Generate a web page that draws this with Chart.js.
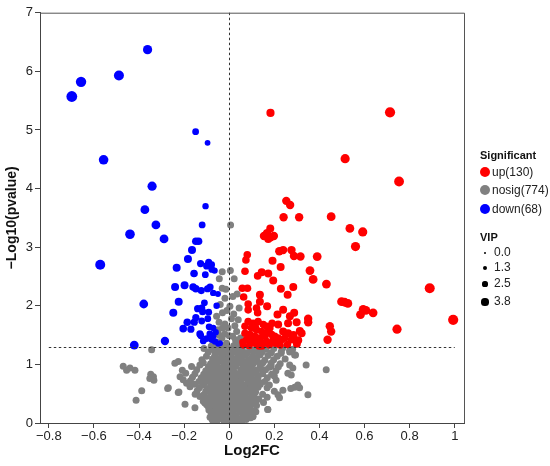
<!DOCTYPE html>
<html>
<head>
<meta charset="utf-8">
<script src="https://cdn.jsdelivr.net/npm/chart.js@4.4.1/dist/chart.umd.min.js"></script>
<style>
  body { margin: 0; background: #fff; font-family: 'Liberation Sans', Arial, sans-serif; }
  #wrap { position: relative; width: 550px; height: 466px; }
  .lg { position: absolute; left: 480px; font-size: 12px; color: #222; line-height: 14px; white-space: nowrap; }
  .lg b { font-size: 11px; color: #111; }
  .dot { position: absolute; border-radius: 50%; }
</style>
</head>
<body>
<div id="wrap">
  <canvas id="volcano" width="550" height="466"></canvas>
  <div id="legend"></div>
</div>
<script>
// x = Log2FC, y = -log10(pvalue), v = VIP
const upPts = [
  [0.183,5.29,2.5],[0.713,5.30,3.5],[0.514,4.51,3.0],[0.753,4.12,3.3],
  [0.253,3.79,2.6],[0.270,3.72,2.6],[0.241,3.51,2.6],[0.310,3.51,2.6],[0.452,3.52,2.8],
  [0.182,3.32,2.4],[0.535,3.32,2.8],[0.592,3.26,3.0],[0.560,3.01,3.0],
  [0.154,3.19,2.6],[0.168,3.24,2.6],[0.183,3.17,2.6],[0.198,3.19,2.6],[0.173,3.14,2.4],
  [0.080,2.87,2.2],[0.074,2.78,2.2],[0.222,2.93,2.6],[0.239,2.95,2.6],[0.276,2.95,2.6],
  [0.287,2.85,2.6],[0.316,2.84,2.6],[0.390,2.84,2.8],[0.192,2.77,2.4],[0.228,2.66,2.4],
  [0.070,2.59,2.2],[0.144,2.57,2.4],[0.173,2.55,2.4],[0.126,2.51,2.2],
  [0.358,2.60,2.8],[0.372,2.45,2.8],[0.431,2.37,2.8],[0.195,2.43,2.4],
  [0.058,2.30,2.2],[0.081,2.30,2.2],[0.229,2.29,2.4],[0.284,2.32,2.4],
  [0.259,2.19,2.4],[0.064,2.15,2.2],[0.136,2.19,2.4],[0.136,2.07,2.4],
  [0.084,2.03,2.2],[0.084,1.93,2.2],[0.168,1.99,2.4],[0.121,1.96,2.2],[0.126,1.88,2.2],
  [0.239,1.93,2.4],[0.288,1.88,2.4],[0.269,1.82,2.4],[0.214,1.85,2.4],
  [0.889,2.30,3.4],[0.498,2.07,2.8],[0.512,2.06,2.8],[0.526,2.04,2.8],
  [0.594,1.94,2.8],[0.606,1.92,2.8],[0.582,1.85,2.8],[0.638,1.88,2.8],
  [0.993,1.76,3.5],[0.744,1.60,3.0],
  [0.350,1.78,2.6],[0.350,1.72,2.6],[0.299,1.72,2.4],[0.261,1.70,2.4],[0.217,1.68,2.4],
  [0.313,1.57,2.4],[0.321,1.53,2.4],[0.446,1.65,2.6],[0.452,1.56,2.6],[0.436,1.42,2.6],
  [0.239,1.56,2.4],[0.261,1.53,2.4],[0.306,1.41,2.4],[0.300,1.35,2.4],
  [0.084,1.73,2.2],[0.106,1.70,2.2],[0.128,1.73,2.2],[0.151,1.68,2.2],[0.166,1.65,2.2],
  [0.099,1.62,2.2],[0.121,1.59,2.2],[0.144,1.56,2.2],[0.173,1.56,2.2],[0.070,1.53,2.2],
  [0.092,1.51,2.2],[0.114,1.48,2.2],[0.136,1.45,2.2],[0.158,1.48,2.2],[0.188,1.51,2.2],
  [0.202,1.48,2.2],[0.217,1.45,2.2],[0.232,1.42,2.2],[0.077,1.42,2.2],[0.099,1.39,2.2],
  [0.128,1.39,2.2],[0.166,1.39,2.2],[0.195,1.42,2.2],[0.247,1.45,2.2],[0.276,1.42,2.2],
  [0.114,1.36,2.2],[0.151,1.36,2.2],[0.062,1.33,2.0],[0.088,1.32,2.0],[0.132,1.31,2.0],
  [0.178,1.33,2.0],[0.205,1.36,2.2],[0.258,1.34,2.2],[0.070,1.65,2.2],[0.180,1.62,2.2],
  [0.200,1.40,2.2],[0.225,1.33,2.2],[0.145,1.31,2.0],[0.105,1.45,2.2],[0.060,1.38,2.0],
  [0.190,1.70,2.2],[0.285,1.50,2.4],[0.115,1.65,2.2]
];

const downPts = [
  [-0.698,5.57,3.8],[-0.657,5.82,3.6],[-0.489,5.93,3.4],[-0.362,6.37,3.0],
  [-0.149,4.97,1.8],[-0.096,4.78,1.3],[-0.557,4.49,3.2],[-0.342,4.04,3.0],
  [-0.374,3.64,2.8],[-0.105,3.70,1.6],[-0.325,3.38,2.8],[-0.120,3.38,1.8],
  [-0.440,3.22,3.2],[-0.289,3.14,2.8],[-0.148,3.10,2.2],[-0.136,3.10,2.2],
  [-0.165,2.95,2.4],[-0.183,2.80,2.4],[-0.091,2.74,2.0],[-0.078,2.70,1.8],
  [-0.100,2.68,2.0],[-0.127,2.72,2.0],[-0.572,2.70,3.4],[-0.233,2.65,2.4],
  [-0.077,2.62,1.8],[-0.065,2.60,1.6],[-0.156,2.55,2.2],[-0.106,2.53,1.8],
  [-0.240,2.32,2.4],[-0.198,2.35,2.4],[-0.160,2.32,2.2],[-0.148,2.29,2.2],
  [-0.124,2.26,2.0],[-0.085,2.32,2.0],[-0.096,2.29,2.0],[-0.071,2.22,1.6],
  [-0.224,2.07,2.4],[-0.379,2.03,2.8],[-0.122,1.96,2.0],[-0.118,1.90,2.0],
  [-0.091,1.89,1.8],[-0.056,2.00,1.6],[-0.248,1.88,2.4],[-0.148,1.80,2.0],
  [-0.155,1.72,2.0],[-0.186,1.72,2.2],[-0.122,1.74,1.8],[-0.089,1.64,1.8],
  [-0.071,1.62,1.6],[-0.204,1.61,2.2],[-0.130,1.52,2.0],[-0.126,1.49,1.8],
  [-0.086,1.52,1.8],[-0.071,1.48,1.6],[-0.100,1.44,1.8],[-0.078,1.42,1.6],
  [-0.063,1.39,1.6],[-0.049,1.35,1.4],[-0.041,1.36,1.4],[-0.285,1.40,2.6],
  [-0.421,1.33,2.8],[-0.095,1.78,1.8],[-0.110,2.05,1.8],[-0.140,1.95,2.0],
  [-0.060,1.55,1.6],[-0.170,1.60,2.0],[-0.115,1.40,1.8],[-0.050,2.20,1.4]
];

const nosigVip = 1.9;
const nosigPts = [
  [-0.112,1.27],[-0.071,1.28],[-0.034,1.26],[-0.004,1.27],[0.027,1.28],[0.058,1.26],[0.091,1.27],[0.124,1.28],[0.163,1.26],[0.198,1.27],[0.237,1.28],[0.281,1.26],
  [-0.093,1.21],[-0.052,1.22],[-0.018,1.20],[0.016,1.21],[0.047,1.22],[0.081,1.20],[0.113,1.22],[0.146,1.21],[0.187,1.20],[0.231,1.22],[0.268,1.21],
  [-0.101,1.14],[-0.063,1.16],[-0.029,1.15],[0.008,1.14],[0.039,1.16],[0.072,1.15],[0.104,1.14],[0.137,1.16],[0.172,1.15],[0.213,1.14],[0.290,1.16],
  [-0.121,1.08],[-0.074,1.09],[-0.041,1.07],[-0.009,1.08],[0.022,1.09],[0.054,1.07],[0.088,1.08],[0.121,1.09],[0.158,1.07],[0.197,1.08],[0.248,1.09],
  [-0.241,1.02],[-0.226,1.05],[-0.115,1.03],[-0.083,1.01],[-0.054,1.03],[-0.021,1.02],[0.011,1.01],[0.043,1.03],[0.069,1.02],[0.107,1.01],[0.149,1.03],[0.186,1.02],[0.226,1.01],[0.268,0.99],
  [-0.167,0.965],[-0.130,0.99],[-0.092,0.96],[-0.061,0.97],[-0.032,0.95],[-0.003,0.96],[0.029,0.97],[0.061,0.95],[0.098,0.96],[0.138,0.97],[0.178,0.95],[0.218,0.96],[0.341,0.99],
  [-0.208,0.90],[-0.144,0.91],[-0.104,0.89],[-0.071,0.90],[-0.043,0.91],[-0.012,0.89],[0.019,0.90],[0.051,0.91],[0.083,0.89],[0.119,0.90],[0.161,0.91],[0.207,0.89],[0.282,0.94],[0.430,0.91],
  [-0.193,0.85],[-0.152,0.84],[-0.113,0.83],[-0.082,0.85],[-0.051,0.84],[-0.022,0.83],[0.009,0.85],[0.038,0.84],[0.071,0.83],[0.109,0.85],[0.148,0.84],[0.188,0.83],[0.260,0.85],[0.275,0.82],
  [-0.218,0.79],[-0.163,0.78],[-0.124,0.77],[-0.094,0.79],[-0.062,0.78],[-0.031,0.77],[-0.002,0.79],[0.028,0.78],[0.061,0.77],[0.093,0.79],[0.128,0.78],[0.169,0.77],
  [-0.204,0.74],[-0.172,0.72],[-0.134,0.71],[-0.101,0.73],[-0.072,0.72],[-0.043,0.71],[-0.014,0.73],[0.018,0.72],[0.049,0.71],[0.082,0.73],[0.118,0.72],[0.158,0.71],[0.208,0.73],
  [-0.189,0.68],[-0.153,0.66],[-0.114,0.65],[-0.083,0.67],[-0.053,0.66],[-0.024,0.65],[0.007,0.67],[0.038,0.66],[0.068,0.65],[0.102,0.67],[0.138,0.66],[0.178,0.65],[0.304,0.65],
  [-0.270,0.60],[-0.174,0.62],[-0.132,0.60],[-0.094,0.59],[-0.063,0.61],[-0.034,0.60],[-0.004,0.59],[0.027,0.61],[0.058,0.60],[0.091,0.59],[0.128,0.61],[0.168,0.60],[0.290,0.61],[0.312,0.60],
  [-0.226,0.52],[-0.142,0.55],[-0.104,0.54],[-0.073,0.53],[-0.044,0.55],[-0.013,0.54],[0.018,0.53],[0.049,0.55],[0.081,0.54],[0.117,0.53],[0.200,0.54],[0.238,0.56],[0.273,0.59],
  [-0.151,0.49],[-0.113,0.48],[-0.082,0.47],[-0.053,0.49],[-0.022,0.48],[0.009,0.47],[0.039,0.49],[0.071,0.48],[0.108,0.47],[0.148,0.49],[0.216,0.48],[0.349,0.48],
  [-0.130,0.45],[-0.093,0.42],[-0.062,0.41],[-0.032,0.43],[-0.003,0.42],[0.028,0.41],[0.061,0.43],[0.094,0.42],[0.131,0.41],[0.168,0.44],[0.223,0.43],
  [-0.115,0.37],[-0.081,0.36],[-0.052,0.35],[-0.021,0.37],[0.011,0.36],[0.042,0.35],[0.073,0.37],[0.104,0.36],[0.152,0.35],
  [-0.196,0.32],[-0.108,0.34],[-0.071,0.30],[-0.042,0.29],[-0.012,0.31],[0.019,0.30],[0.051,0.29],[0.083,0.31],[0.121,0.30],
  [-0.152,0.26],[-0.093,0.28],[-0.061,0.24],[-0.032,0.23],[-0.003,0.25],[0.028,0.24],[0.061,0.23],[0.092,0.25],[0.171,0.23],
  [-0.071,0.19],[-0.042,0.18],[-0.013,0.17],[0.018,0.19],[0.049,0.18],[0.082,0.17],[0.118,0.19],
  [-0.058,0.13],[-0.031,0.12],[-0.002,0.11],[0.029,0.13],[0.061,0.12],[0.105,0.11],
  [-0.042,0.07],[-0.013,0.06],[0.018,0.05],[0.046,0.07],
  [-0.021,0.02],[0.008,0.01],[0.031,0.03],
  [-0.047,1.24],[-0.008,1.18],[0.034,1.11],[-0.028,1.05],[0.012,0.99],[-0.041,0.93],[0.003,0.87],[0.045,0.81],[-0.017,0.75],
  [0.032,0.69],[-0.038,0.63],[0.014,0.57],[-0.026,0.51],[0.022,0.45],[-0.011,0.39],[0.035,0.33],[-0.027,0.27],[0.008,0.21],
  [-0.019,0.15],[0.014,0.09],[0.000,0.04],[-0.066,1.12],[0.064,1.05],[-0.058,0.88],[0.066,0.77],[-0.060,0.45],[0.052,0.39],
  [-0.075,0.05],[-0.055,0.03],[0.055,0.02],[0.075,0.06],[0.095,0.09],[-0.085,0.10],[0.070,0.14],[-0.080,0.16],[0.100,0.15],
  [-0.090,0.22],[0.110,0.21],[0.075,0.20],[-0.050,0.21],[0.040,0.26],[-0.020,0.27],[0.070,0.27],[-0.100,0.31],[0.100,0.33],
  [-0.035,0.33],[0.060,0.34],[-0.070,0.39],[0.085,0.39],[0.120,0.38],[-0.040,0.40],[0.045,0.44],[-0.085,0.45],[0.110,0.45],
  [-0.015,0.46],[0.065,0.51],[-0.065,0.51],[0.095,0.51],[0.000,0.52],[0.035,0.52],[-0.090,0.57],[0.075,0.57],[0.105,0.56],
  [-0.050,0.58],[0.045,0.63],[-0.075,0.63],[0.115,0.63],[-0.010,0.63],[0.085,0.69],[-0.065,0.69],[0.000,0.70],[-0.110,0.69],
  [0.135,0.69],[0.055,0.75],[-0.085,0.75],[0.100,0.76],[-0.045,0.75],[0.015,0.81],[-0.070,0.81],[0.085,0.81],[-0.105,0.81],
  [0.125,0.82],[0.055,0.87],[-0.030,0.87],[-0.090,0.87],[0.100,0.87],[0.070,0.93],[-0.020,0.93],[-0.080,0.93],[0.135,0.93],
  [0.030,1.00],[-0.070,1.00],[0.085,1.00],[0.125,1.05],[-0.045,1.10],[0.010,1.10],[0.100,1.11],[0.060,1.18],[-0.035,1.19],
  [0.130,1.19],[-0.070,1.25],[0.040,1.25],[0.100,1.24],
  [-0.470,0.97],[-0.455,0.90],[-0.440,0.94],[-0.418,0.90],[-0.344,1.25],[-0.348,0.83],[-0.336,0.79],[-0.352,0.76],
  [-0.334,0.73],[-0.388,0.55],[-0.413,0.39],[-0.273,0.59],[-0.223,0.53],
  [0.230,1.19],[0.268,1.24],[0.294,1.16],[0.186,0.97],[0.200,0.80],[0.171,0.23],[0.105,0.11],
  [0.006,3.38],[-0.031,2.58],[-0.044,2.46],[0.022,2.46],[-0.031,2.30],[0.016,2.16],[-0.019,2.13],[0.003,1.99],
  [-0.030,1.88],[0.044,1.96],[-0.019,1.69],[0.033,1.56],[0.015,1.48],[-0.056,1.82],[0.040,1.76],[-0.049,1.59],
  [-0.005,1.62],[0.028,1.42],[-0.032,1.45],[-0.012,1.36],[0.045,1.34],[-0.060,1.33],[0.010,1.78],[-0.040,2.02],
  [0.005,2.60],[-0.015,2.28],[0.035,2.20],[-0.045,1.72],[-0.080,1.31],[-0.020,1.52],
  [-0.050,1.38],[0.030,1.37],[-0.030,1.32],[0.020,1.32],[0.000,1.49],[-0.045,1.50],[0.050,1.45],[0.025,1.66],
  [-0.030,1.62],[-0.010,1.92],[0.020,1.86]
];

const xTicks = [-0.8, -0.6, -0.4, -0.2, 0, 0.2, 0.4, 0.6, 0.8, 1];
const xTickLabels = ['\u22120.8', '\u22120.6', '\u22120.4', '\u22120.2', '0', '0.2', '0.4', '0.6', '0.8', '1'];
const yTicks = [0, 1, 2, 3, 4, 5, 6, 7];
const pCut = 1.3;      // -log10(0.05)
const fcCut = 0;

const groupNames = ['up(130)', 'nosig(774)', 'down(68)'];
const groupColors = ['#ff0000', '#808080', '#0000ff'];
const vipLegend = [0.0, 1.3, 2.5, 3.8];

const toPts = arr => arr.map(p => ({ x: p[0], y: p[1], v: p[2] }));
const rad = c => (c.raw ? 1.6 + c.raw.v : 3);

const refLines = {
  id: 'refLines',
  afterDatasetsDraw(chart) {
    const { ctx, chartArea: a, scales: { x, y } } = chart;
    ctx.save();
    ctx.strokeStyle = '#333';
    ctx.lineWidth = 1;
    ctx.setLineDash([2.5, 2.5]);
    ctx.beginPath();
    const hy = Math.round(y.getPixelForValue(pCut)) + 0.5;
    ctx.moveTo(x.getPixelForValue(-0.8), hy);
    ctx.lineTo(x.getPixelForValue(1), hy);
    const vx = Math.round(x.getPixelForValue(fcCut)) + 0.5;
    ctx.moveTo(vx, a.top);
    ctx.lineTo(vx, a.bottom);
    ctx.stroke();
    ctx.setLineDash([]);
    ctx.strokeStyle = '#555';
    ctx.beginPath();
    ctx.moveTo(a.left, a.top + 0.5);
    ctx.lineTo(a.right + 0.5, a.top + 0.5);
    ctx.lineTo(a.right + 0.5, a.bottom);
    ctx.stroke();
    ctx.restore();
  }
};

const ctx = document.getElementById('volcano');
const volcano = new Chart(ctx, {
  type: 'scatter',
  data: {
    datasets: [
      { label: 'up', data: toPts(upPts), backgroundColor: groupColors[0] },
      { label: 'down', data: toPts(downPts), backgroundColor: groupColors[2] },
      { label: 'nosig', data: nosigPts.map(p => ({ x: p[0], y: p[1], v: nosigVip })), backgroundColor: groupColors[1] }
    ]
  },
  options: {
    responsive: false,
    animation: false,
    events: [],
    layout: { padding: { top: 12.7, right: 86, left: 0, bottom: 0 } },
    elements: { point: { radius: rad, borderWidth: 0, hoverRadius: rad } },
    plugins: { legend: { display: false }, tooltip: { enabled: false } },
    scales: {
      x: {
        type: 'linear',
        min: -0.839,
        max: 1.041,
        afterBuildTicks: s => { s.ticks = xTicks.map(v => ({ value: v })); },
        afterFit: s => { s.height = 43; },
        ticks: {
          callback: (v, i) => xTickLabels[i],
          color: '#222', font: { size: 13, family: "'Liberation Sans', Arial" },
          padding: 1, maxRotation: 0, autoSkip: false
        },
        grid: { drawOnChartArea: false, drawTicks: true, tickLength: 5, color: '#444' },
        border: { color: '#444', width: 1 },
        title: {
          display: true, text: 'Log2FC', color: '#111',
          font: { size: 15, weight: 'bold', family: "'Liberation Sans', Arial" },
          padding: { top: 0, bottom: 6 }
        }
      },
      y: {
        type: 'linear',
        min: 0,
        max: 7,
        afterBuildTicks: s => { s.ticks = yTicks.map(v => ({ value: v })); },
        afterFit: s => { s.width = 40; },
        ticks: {
          color: '#222', font: { size: 13, family: "'Liberation Sans', Arial" },
          padding: 2
        },
        grid: { drawOnChartArea: false, drawTicks: true, tickLength: 5, color: '#444' },
        border: { color: '#444', width: 1 },
        title: {
          display: true, text: '\u2212Log10(pvalue)', color: '#111',
          font: { size: 14, weight: 'bold', family: "'Liberation Sans', Arial" },
          padding: { top: 4, bottom: 0 }
        }
      }
    }
  },
  plugins: [refLines]
});

// legend on the right, HTML
const legend = document.getElementById('legend');
function addRow(top, html) {
  const d = document.createElement('div');
  d.className = 'lg';
  d.style.top = top + 'px';
  d.innerHTML = html;
  legend.appendChild(d);
  return d;
}
function addDot(cx, cy, r, color) {
  const d = document.createElement('div');
  d.className = 'dot';
  d.style.left = (cx - r) + 'px';
  d.style.top = (cy - r) + 'px';
  d.style.width = (2 * r) + 'px';
  d.style.height = (2 * r) + 'px';
  d.style.background = color;
  legend.appendChild(d);
}
addRow(148, '<b>Significant</b>');
const groupY = [172, 190, 209];
groupNames.forEach((name, i) => {
  addDot(485, groupY[i], 5, groupColors[i]);
  const r = addRow(groupY[i] - 7, name);
  r.style.left = '492px';
});
addRow(230, '<b>VIP</b>');
const vipY = [253, 268, 284, 302];
const vipR = [1, 2, 2.6, 3.6];
vipLegend.forEach((v, i) => {
  addDot(485, vipY[i], vipR[i], '#000');
  const r = addRow(vipY[i] - 8, v.toFixed(1));
  r.style.left = '494px';
});
</script>
</body>
</html>
